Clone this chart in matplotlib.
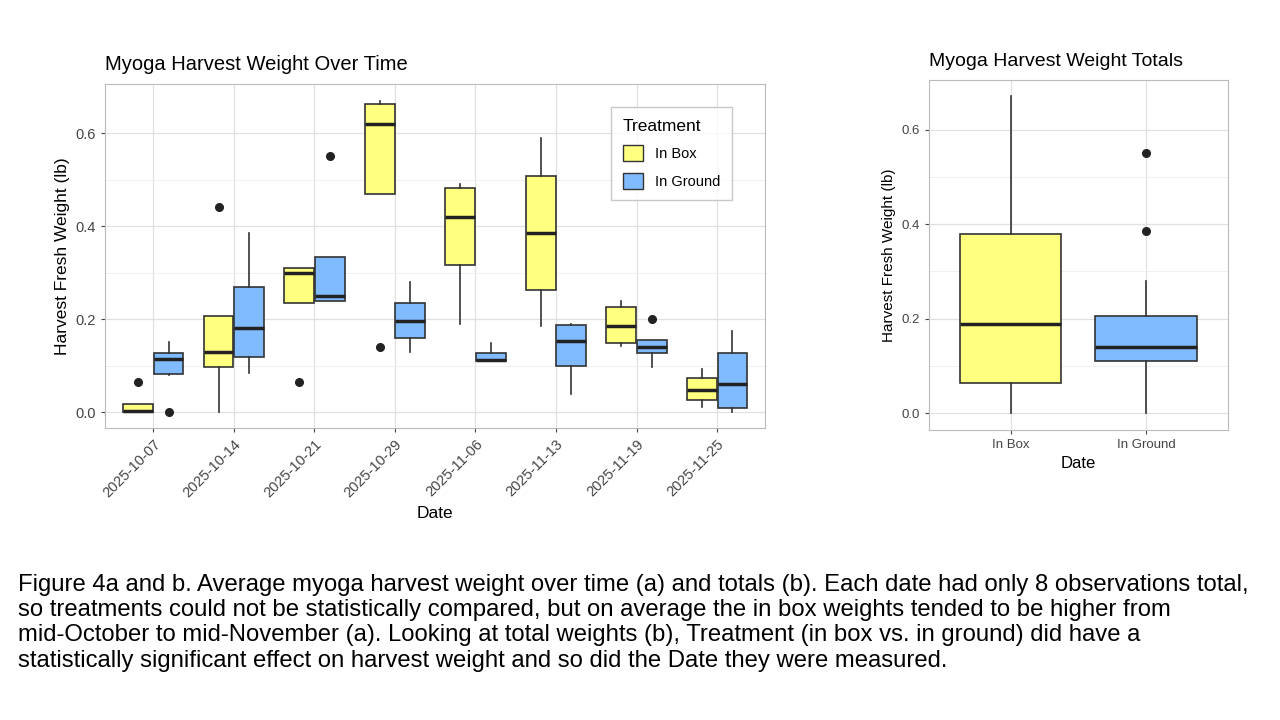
import matplotlib.pyplot as plt
from matplotlib.patches import Patch

plt.rcParams['font.family'] = ['Liberation Sans', 'DejaVu Sans']

dates = ['2025-10-07', '2025-10-14', '2025-10-21', '2025-10-29',
         '2025-11-06', '2025-11-13', '2025-11-19', '2025-11-25']

# box stats per date: whisker low, q1, median, q3, whisker high, outliers
box_lo = [0.0, 0.0, 0.235, 0.47, 0.19, 0.185, 0.143, 0.01]
box_q1 = [0.0, 0.097, 0.235, 0.47, 0.317, 0.263, 0.148, 0.025]
box_med = [0.003, 0.13, 0.30, 0.62, 0.42, 0.385, 0.185, 0.047]
box_q3 = [0.017, 0.207, 0.31, 0.663, 0.482, 0.508, 0.225, 0.073]
box_hi = [0.017, 0.207, 0.31, 0.67, 0.49, 0.59, 0.238, 0.093]
box_out = [[0.065], [0.44], [0.065], [0.14], [], [], [], []]

gnd_lo = [0.08, 0.085, 0.24, 0.13, 0.11, 0.04, 0.097, 0.0]
gnd_q1 = [0.083, 0.118, 0.24, 0.16, 0.11, 0.10, 0.128, 0.008]
gnd_med = [0.115, 0.18, 0.25, 0.195, 0.113, 0.153, 0.14, 0.06]
gnd_q3 = [0.128, 0.27, 0.333, 0.235, 0.127, 0.187, 0.155, 0.127]
gnd_hi = [0.15, 0.385, 0.333, 0.28, 0.148, 0.19, 0.155, 0.175]
gnd_out = [[0.0], [], [0.55], [], [], [], [0.20], []]

treatments = ['In Box', 'In Ground']
tot_lo = [0.0, 0.0]
tot_q1 = [0.065, 0.11]
tot_med = [0.188, 0.14]
tot_q3 = [0.38, 0.205]
tot_hi = [0.67, 0.28]
tot_out = [[], [0.385, 0.55]]

yellow = '#FFFF80'
blue = '#80BBFF'


def stats(lo, q1, med, q3, hi, out):
    return [dict(whislo=a, q1=b, med=c, q3=d, whishi=e, fliers=f)
            for a, b, c, d, e, f in zip(lo, q1, med, q3, hi, out)]


def draw(ax, st, pos, width):
    ax.bxp(st, positions=pos, widths=width, patch_artist=True, showcaps=False,
           boxprops=dict(facecolor='white', edgecolor='#333333', linewidth=1.2),
           medianprops=dict(color='#222222', linewidth=2.5),
           whiskerprops=dict(color='#333333', linewidth=1.2),
           flierprops=dict(marker='o', markerfacecolor='#222222',
                           markeredgecolor='#222222', markersize=5.5))


def style(ax, size):
    ax.set_facecolor('white')
    for s in ax.spines.values():
        s.set_color('#BBBBBB')
    ax.set_axisbelow(True)
    ax.grid(True, which='major', color='#E0E0E0', linewidth=0.9)
    ax.grid(True, which='minor', axis='y', color='#EEEEEE', linewidth=0.6)
    ax.tick_params(colors='#444444', labelsize=size, length=3)
    ax.tick_params(which='minor', length=0)


fig = plt.figure(figsize=(12.8, 7.2), dpi=100)

ax1 = fig.add_axes([0.082, 0.405, 0.516, 0.478])
x = list(range(len(dates)))
draw(ax1, stats(box_lo, box_q1, box_med, box_q3, box_hi, box_out),
     [i - 0.19 for i in x], 0.37)
draw(ax1, stats(gnd_lo, gnd_q1, gnd_med, gnd_q3, gnd_hi, gnd_out),
     [i + 0.19 for i in x], 0.37)
for i, p in enumerate(ax1.patches):
    p.set_facecolor(yellow if i < len(dates) else blue)
ax1.set_xlim(-0.6, 7.6)
ax1.set_ylim(-0.035, 0.705)
ax1.set_xticks(x)
ax1.set_xticklabels(dates, rotation=45, ha='right', rotation_mode='anchor')
ax1.set_yticks([0.0, 0.2, 0.4, 0.6])
ax1.set_yticks([0.1, 0.3, 0.5], minor=True)
style(ax1, 10.5)
ax1.set_title('Myoga Harvest Weight Over Time', loc='left', fontsize=14.5, pad=10)
ax1.set_xlabel('Date', fontsize=12.5)
ax1.set_ylabel('Harvest Fresh Weight (lb)', fontsize=12.5)
leg = ax1.legend(handles=[Patch(facecolor=yellow, edgecolor='#333333', label='In Box'),
                          Patch(facecolor=blue, edgecolor='#333333', label='In Ground')],
                 title='Treatment', loc='upper right', bbox_to_anchor=(0.96, 0.955),
                 fontsize=10.5, title_fontsize=12.5, frameon=True, fancybox=False,
                 edgecolor='#BBBBBB', borderpad=0.8, handlelength=1.4,
                 handleheight=1.3, labelspacing=0.8)
leg._legend_box.align = 'left'

ax2 = fig.add_axes([0.726, 0.403, 0.233, 0.486])
draw(ax2, stats(tot_lo, tot_q1, tot_med, tot_q3, tot_hi, tot_out), [0, 1], 0.75)
for p, c in zip(ax2.patches, [yellow, blue]):
    p.set_facecolor(c)
ax2.set_xlim(-0.6, 1.6)
ax2.set_ylim(-0.035, 0.705)
ax2.set_xticks([0, 1])
ax2.set_xticklabels(treatments)
ax2.set_yticks([0.0, 0.2, 0.4, 0.6])
ax2.set_yticks([0.1, 0.3, 0.5], minor=True)
style(ax2, 9.5)
ax2.set_title('Myoga Harvest Weight Totals', loc='left', fontsize=14, pad=10)
ax2.set_xlabel('Date', fontsize=12)
ax2.set_ylabel('Harvest Fresh Weight (lb)', fontsize=11)

caption = ('Figure 4a and b. Average myoga harvest weight over time (a) and totals (b). '
           'Each date had only 8 observations total,\n'
           'so treatments could not be statistically compared, but on average the in box '
           'weights tended to be higher from\n'
           'mid-October to mid-November (a). Looking at total weights (b), Treatment '
           '(in box vs. in ground) did have a\n'
           'statistically significant effect on harvest weight and so did the Date they '
           'were measured.')
fig.text(0.014, 0.135, caption, fontsize=17.2, va='center', ha='left', linespacing=1.2)

fig.savefig('out.png', dpi=100)
